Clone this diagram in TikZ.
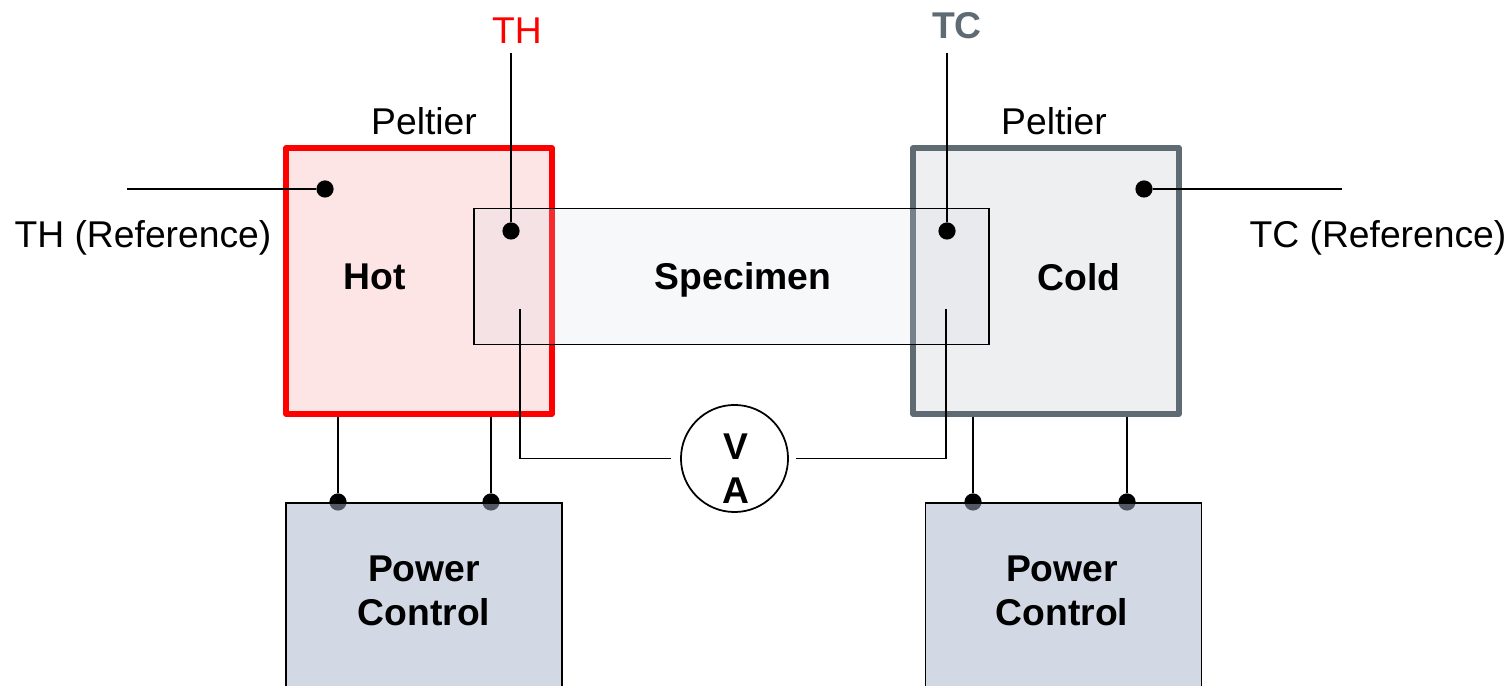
\documentclass[tikz,border=0pt]{standalone}
\usepackage{fontspec}
\setmainfont{Liberation Sans}
\usepackage{tikz}
\definecolor{hotred}{RGB}{255,0,0}
\definecolor{hotfill}{RGB}{253,228,229}
\definecolor{coldgray}{RGB}{95,107,115}
\definecolor{coldfill}{RGB}{238,239,241}
\definecolor{slab}{RGB}{211,218,228}
\definecolor{supply}{RGB}{165,179,201}
\tikzset{
  lab/.style={font=\fontsize{10.6}{12.6}\selectfont,align=center,inner sep=0pt},
  blab/.style={lab,font=\fontsize{10.6}{12.6}\selectfont\bfseries},
  wire/.style={line width=0.6pt,black},
  junction/.style={circle,fill=black,inner sep=0pt,minimum size=0.172cm},
  peltier/.style={rectangle,line width=1.5pt,line join=round,minimum width=2.66cm,minimum height=2.66cm},
  supplybox/.style={rectangle,draw=black,line width=0.5pt,fill=supply,fill opacity=0.5,minimum width=2.76cm,minimum height=2.2cm,anchor=north},
}
\begin{document}
\begin{tikzpicture}[x=0.01cm,y=-0.01cm]
\useasboundingbox (0,0) rectangle (1509,686);
\clip (0,0) rectangle (1509,686);
\node[peltier,draw=hotred,fill=hotfill] (hot) at (419,281) {};
\node[peltier,draw=coldgray,fill=coldfill] (cold) at (1046,281) {};
\node[rectangle,draw=black,line width=0.5pt,fill=slab,fill opacity=0.2,draw opacity=1,minimum width=5.15cm,minimum height=1.36cm] (specimen) at (731.5,276.5) {};
\node[junction] (hotref) at (325,189) {};
\node[junction] (coldref) at (1144,189) {};
\node[junction] (hotprobe) at (511,231) {};
\node[junction] (coldprobe) at (947,231) {};
\coordinate (hotrefend) at (127,189);
\coordinate (coldrefend) at (1342,189);
\coordinate (hotprobeend) at (511,53);
\coordinate (coldprobeend) at (947,53);
\draw[wire] (hotrefend) -- (hotref);
\draw[wire] (coldref) -- (coldrefend);
\draw[wire] (hotprobeend) -- (hotprobe);
\draw[wire] (coldprobeend) -- (coldprobe);
\node[circle,draw=black,line width=0.5pt,fill=white,inner sep=0pt,minimum size=1.07cm] (meter) at (734.5,458.5) {};
\coordinate (hotlead) at (520,309);
\coordinate (coldlead) at (946,309);
\coordinate (meterin) at (671,458.5);
\coordinate (meterout) at (796,458.5);
\draw[line width=0.5pt] (hotlead) |- (meterin);
\draw[line width=0.5pt] (coldlead) |- (meterout);
\foreach \n/\x/\p in {a/338/hot, b/491/hot, c/973/cold, d/1127/cold} {
  \node[junction] (pin\n) at (\x,502) {};
  \draw[wire] (pin\n |- \p.south) -- (pin\n);
}
\node[supplybox] (hotsupply) at (424,502) {};
\node[supplybox] (coldsupply) at (1063.5,502) {};
\node[blab] (hotname) at (375,277) {Hot};
\node[blab] (coldname) at (1079,277) {Cold};
\node[blab] (specname) at (743,280) {Specimen};
\node[blab] (hotsupplyname) at (424,591) {Power\\Control};
\node[blab] (coldsupplyname) at (1062,591) {Power\\Control};
\node[blab] (metername) at (736,469) {V\\A};
\node[lab] (hotpeltier) at (424,121) {Peltier};
\node[lab] (coldpeltier) at (1054,121) {Peltier};
\node[lab,text=hotred] (thtop) at (517,31) {TH};
\node[blab,text=coldgray] (tctop) at (957,26) {TC};
\node[lab] (thref) at (143,238) {TH (Reference)};
\node[lab] (tcref) at (1378,238) {TC (Reference)};
\end{tikzpicture}
\end{document}
